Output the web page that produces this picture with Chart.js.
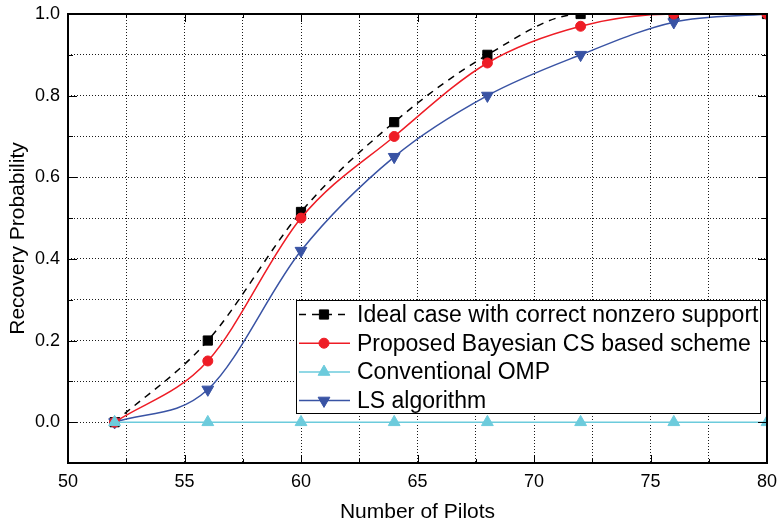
<!DOCTYPE html>
<html>
<head>
<meta charset="utf-8">
<script src="https://cdn.jsdelivr.net/npm/chart.js@4.4.1/dist/chart.umd.min.js"></script>
<style>
  html, body { margin: 0; padding: 0; background: #fff; }
  #wrap { width: 777px; height: 525px; }
</style>
</head>
<body>
<div id="wrap"><canvas id="chart" width="777" height="525"></canvas></div>
<script>
// data
const pilots = [52, 56, 60, 64, 68, 72, 76, 80];
const idealCase = [0, 0.2, 0.515, 0.735, 0.9, 1.0, 1.0, 1.0];
const proposedBcs = [0, 0.15, 0.5, 0.7, 0.88, 0.97, 1.0, 1.0];
const conventionalOmp = [0, 0, 0, 0, 0, 0, 0, 0];
const lsAlgorithm = [0, 0.08, 0.42, 0.65, 0.8, 0.9, 0.98, 1.0];

const seriesNames = [
    'Ideal case with correct nonzero support',
    'Proposed Bayesian CS based scheme',
    'Conventional OMP',
    'LS algorithm'
];
const xTickLabels = [50, 55, 60, 65, 70, 75, 80];
const yTickLabels = [0.0, 0.2, 0.4, 0.6, 0.8, 1.0];

const FONT = "'Liberation Sans', Arial, sans-serif";

function toPoints(ys) {
    return pilots.map((x, i) => ({ x: x, y: ys[i] }));
}

// frame, inward ticks and the legend box
const framePlugin = {
    id: 'frame',
    afterDraw(chart) {
        const { ctx, chartArea: a, scales } = chart;
        const xs = scales.x, ys = scales.y;
        ctx.save();
        ctx.strokeStyle = '#000';
        ctx.lineWidth = 1;
        ctx.beginPath();
        for (let v = 50; v <= 80.001; v += 2.5) {
            const px = Math.round(xs.getPixelForValue(v)) + 0.5;
            const len = v % 5 === 0 ? 8 : 4;
            ctx.moveTo(px, a.bottom); ctx.lineTo(px, a.bottom - len);
            ctx.moveTo(px, a.top); ctx.lineTo(px, a.top + len);
        }
        for (let i = -1; i <= 10; i++) {
            const py = Math.round(ys.getPixelForValue(i / 10)) + 0.5;
            const len = i % 2 === 0 ? 9 : 5;
            ctx.moveTo(a.left, py); ctx.lineTo(a.left + len, py);
            ctx.moveTo(a.right, py); ctx.lineTo(a.right - len, py);
        }
        ctx.stroke();
        ctx.lineWidth = 2;
        ctx.strokeRect(a.left, a.top, a.right - a.left, a.bottom - a.top);

        // legend
        const bx = 296, by = 300, bw = 464, bh = 113;
        ctx.fillStyle = '#fff';
        ctx.fillRect(bx, by, bw, bh);
        ctx.lineWidth = 1;
        ctx.strokeStyle = '#000';
        ctx.strokeRect(bx + 0.5, by + 0.5, bw, bh);
        ctx.font = '23px ' + FONT;
        ctx.textBaseline = 'middle';
        chart.data.datasets.forEach((ds, i) => {
            const cy = by + 14.5 + i * 28.7;
            ctx.save();
            ctx.strokeStyle = ds.borderColor;
            ctx.lineWidth = ds.borderWidth;
            ctx.setLineDash(ds.borderDash || []);
            ctx.beginPath();
            ctx.moveTo(bx + 3, cy);
            ctx.lineTo(bx + 54, cy);
            ctx.stroke();
            ctx.restore();
            ctx.fillStyle = ds.pointBackgroundColor;
            ctx.strokeStyle = ds.pointBorderColor;
            Chart.helpers.drawPoint(ctx, {
                pointStyle: ds.pointStyle,
                radius: ds.pointRadius,
                rotation: ds.pointRotation || 0,
                borderWidth: 1
            }, bx + 28, cy);
            ctx.fillStyle = '#000';
            ctx.fillText(ds.label, bx + 61, cy + 1);
        });
        ctx.restore();
    }
};

function series(label, ys, color, style, radius, extra) {
    return Object.assign({
        label: label,
        data: toPoints(ys),
        borderColor: color,
        backgroundColor: color,
        pointBackgroundColor: color,
        pointBorderColor: color,
        borderWidth: 1.5,
        pointStyle: style,
        pointRadius: radius,
        pointBorderWidth: 1,
        cubicInterpolationMode: 'monotone',
        fill: false
    }, extra || {});
}

const datasets = [
    series(seriesNames[0], idealCase, '#000000', 'rect', 6.5, { borderDash: [7, 6], order: 3 }),
    series(seriesNames[1], proposedBcs, '#ee1c25', 'circle', 5, { order: 1 }),
    series(seriesNames[2], conventionalOmp, '#6ccbdc', 'triangle', 6.8, { order: 0 }),
    series(seriesNames[3], lsAlgorithm, '#3953a4', 'triangle', 6.8, { pointRotation: 180, order: 2 })
];

new Chart(document.getElementById('chart').getContext('2d'), {
    type: 'line',
    data: { datasets: datasets },
    plugins: [framePlugin],
    options: {
        responsive: false,
        animation: false,
        events: [],
        layout: { padding: { top: 14, right: 10, left: 0, bottom: 0 } },
        plugins: { legend: { display: false }, tooltip: { enabled: false } },
        scales: {
            x: {
                type: 'linear',
                min: 50, max: 80,
                afterBuildTicks(scale) {
                    const t = [];
                    for (let v = 50; v <= 80; v += 2.5) t.push({ value: v });
                    scale.ticks = t;
                },
                afterFit(scale) {
                    scale.height = 62;
                    scale.paddingLeft = 0;
                    scale.paddingRight = 0;
                },
                ticks: {
                    autoSkip: false,
                    maxRotation: 0,
                    padding: 8,
                    color: '#000',
                    font: { family: FONT, size: 18 },
                    callback: (v) => xTickLabels.includes(v) ? String(v) : ''
                },
                grid: {
                    color: '#1a1a1a',
                    lineWidth: 1,
                    drawTicks: false
                },
                border: { display: false, dash: [1, 2] },
                title: {
                    display: true,
                    text: 'Number of Pilots',
                    color: '#000',
                    font: { family: FONT, size: 21 },
                    padding: { top: 0, bottom: 0 }
                }
            },
            y: {
                type: 'linear',
                min: -0.1, max: 1.0,
                afterBuildTicks(scale) {
                    const t = [];
                    for (let i = -1; i <= 10; i++) t.push({ value: i / 10 });
                    scale.ticks = t;
                },
                afterFit(scale) {
                    scale.width = 68;
                    scale.paddingTop = 0;
                    scale.paddingBottom = 0;
                },
                ticks: {
                    autoSkip: false,
                    padding: 8,
                    color: '#000',
                    font: { family: FONT, size: 18 },
                    callback: (v) => {
                        const hit = yTickLabels.find(l => Math.abs(l - v) < 1e-6);
                        return hit === undefined ? '' : hit.toFixed(1);
                    }
                },
                grid: {
                    color: '#1a1a1a',
                    lineWidth: 1,
                    drawTicks: false
                },
                border: { display: false, dash: [1, 2] },
                title: {
                    display: true,
                    text: 'Recovery Probability',
                    color: '#000',
                    font: { family: FONT, size: 21 },
                    padding: { top: 6, bottom: 0 }
                }
            }
        }
    }
});
</script>
</body>
</html>
